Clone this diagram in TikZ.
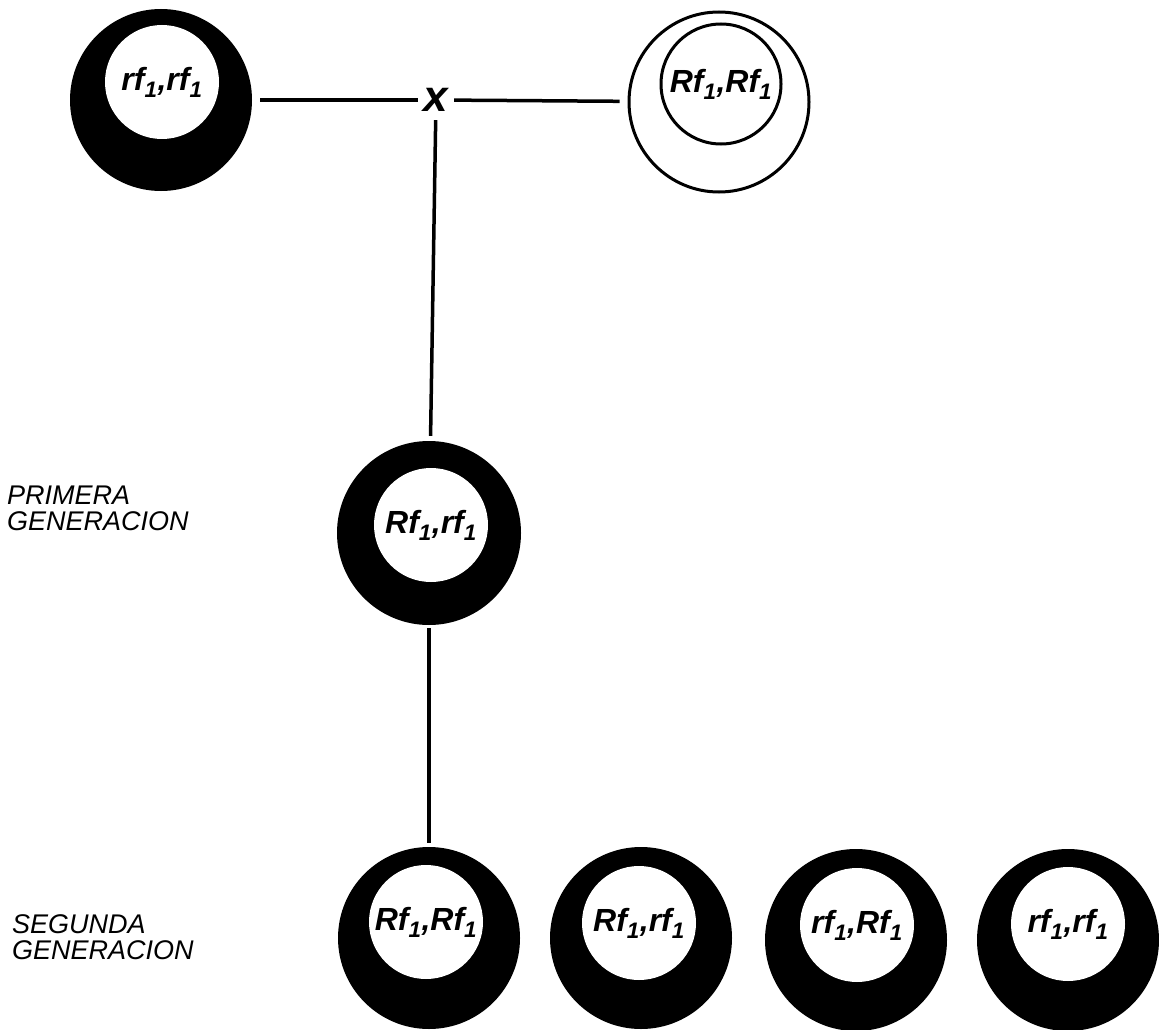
\documentclass[tikz,border=0pt]{standalone}
\usepackage{fontspec}
\setmainfont{Liberation Sans}
\usepackage{tikz}

\newcommand{\rfu}{rf\textsubscript{1}}
\newcommand{\Rfu}{Rf\textsubscript{1}}

\begin{document}
\begin{tikzpicture}[x=1pt, y=-1pt,
		anillo/.style={circle, fill=black, inner sep=0pt, minimum size=182pt},
		hueco/.style={circle, fill=white, inner sep=0pt, minimum size=114pt, font=\fontsize{32}{32}\selectfont\bfseries\itshape},
		vacio/.style={circle, draw=black, line width=3pt, inner sep=0pt},
		rotulo/.style={align=left, inner sep=0pt, font=\fontsize{27}{26}\selectfont\itshape},
		linea/.style={line width=3.5pt}]
		\useasboundingbox (0, 0) rectangle (1159, 1030);
		% padres
		\node[anillo] (p1) at (161, 100) {};
		\node[hueco] (p1t) at (162, 82) {\rfu,\rfu};
		\node[vacio, minimum size=180pt] (p2) at (719, 102) {};
		\node[vacio, minimum size=120pt, font=\fontsize{32}{32}\selectfont\bfseries\itshape] (p2t) at (721, 84) {\Rfu,\Rfu};
		\node[inner sep=0pt, minimum width=36pt, minimum height=40pt, font=\fontsize{44}{44}\selectfont\bfseries\itshape] (cruce) at (436, 100) {x};
		% primera generacion
		\node[anillo, minimum size=184pt] (f1) at (429, 533) {};
		\node[hueco] (f1t) at (431, 525) {\Rfu,\rfu};
		% segunda generacion
		\foreach \n/\x/\y/\ix/\iy/\t in {1/429/938/426/922/{\Rfu,\Rfu}, 2/641/938/639/923/{\Rfu,\rfu}, 3/856/940/857/925/{\rfu,\Rfu}, 4/1068/940/1068/924/{\rfu,\rfu}}
			{
			\node[anillo] (s\n) at (\x, \y) {};
			\node[hueco] (s\n t) at (\ix, \iy) {\t};
			}
		\node[rotulo, anchor=north west] (prim) at (7, 486) {PRIMERA\\GENERACION};
		\node[rotulo, anchor=north west] (seg) at (12, 914) {SEGUNDA\\GENERACION};
		% conexiones
		\draw[linea, shorten <=8pt] (p1) -- (cruce);
		\draw[linea, shorten >=8pt] (cruce) -- (p2);
		\draw[linea, shorten >=5pt] (cruce) -- (f1);
		\draw[linea, shorten <=3pt, shorten >=4pt] (f1) -- (s1);
	\end{tikzpicture}
\end{document}
